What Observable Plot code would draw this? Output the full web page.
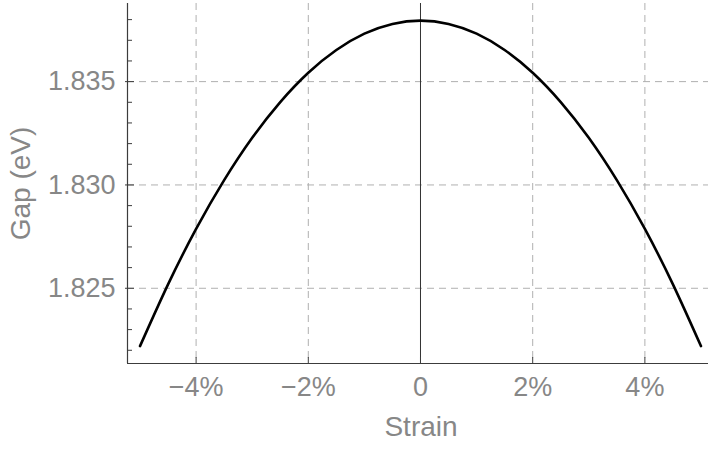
<!DOCTYPE html>
<html>
<head>
<meta charset="utf-8">
<script src="https://cdn.jsdelivr.net/npm/d3@7"></script>
<script src="https://cdn.jsdelivr.net/npm/@observablehq/plot@0.6"></script>
<style>
  html, body { margin: 0; padding: 0; background: #fff; }
  #chart svg { display: block; }
</style>
</head>
<body>
<div id="chart"></div>
<script>
// Band gap versus strain
const strain = [-5, -4.5, -4, -3.5, -3, -2.5, -2, -1.5, -1, -0.5, 0, 0.5, 1, 1.5, 2, 2.5, 3, 3.5, 4, 4.5, 5];
const gap = [1.82220, 1.82519, 1.82787, 1.83023, 1.83228, 1.83401, 1.83543, 1.83653, 1.83732, 1.83779, 1.83795,
             1.83779, 1.83732, 1.83653, 1.83543, 1.83401, 1.83228, 1.83023, 1.82787, 1.82519, 1.82220];

const xTicks = [-4, -2, 0, 2, 4];
const xTickLabels = ["−4%", "−2%", "0", "2%", "4%"];
const xGrid = [-4, -2, 2, 4];
const yTicks = [1.825, 1.830, 1.835];
const yTickLabels = ["1.825", "1.830", "1.835"];
const yMinorTicks = [1.822, 1.823, 1.824, 1.826, 1.827, 1.828, 1.829, 1.831, 1.832, 1.833, 1.834, 1.836, 1.837, 1.838];
const xTitle = "Strain";
const yTitle = "Gap (eV)";

const xDomain = [-5.223, 5.134];
const yDomain = [1.82136, 1.83878];

const data = strain.map((s, i) => ({strain: s, gap: gap[i]}));
const xLabel = new Map(xTicks.map((d, i) => [d, xTickLabels[i]]));
const yLabel = new Map(yTicks.map((d, i) => [d, yTickLabels[i]]));

const W = 708, H = 449;
const mL = 127, mR = 0, mT = 3, mB = 86;
const innerW = W - mL - mR, innerH = H - mT - mB;

const axisColor = "#3c3c3c";
const textColor = "#878787";
const gridColor = "#b0b0b0";

const plot = Plot.plot({
  width: W,
  height: H,
  marginLeft: mL,
  marginRight: mR,
  marginTop: mT,
  marginBottom: mB,
  style: {fontFamily: "'Liberation Sans', Arial, sans-serif", background: "#fff"},
  x: {domain: xDomain, label: null},
  y: {domain: yDomain, label: null},
  marks: [
    Plot.ruleY(yTicks, {stroke: gridColor, strokeWidth: 1, strokeDasharray: "7,5"}),
    Plot.ruleX(xGrid, {stroke: gridColor, strokeWidth: 1, strokeDasharray: "7,5"}),
    Plot.ruleX([0], {stroke: "#333", strokeWidth: 1}),
    Plot.line(data, {x: "strain", y: "gap", curve: "natural", stroke: "#000", strokeWidth: 2.6}),
    // axis lines
    Plot.ruleX([xDomain[0]], {stroke: axisColor, strokeWidth: 1.2}),
    Plot.ruleY([yDomain[0]], {stroke: axisColor, strokeWidth: 1.2}),
    // inward tick marks
    Plot.tickX(xTicks, {stroke: axisColor, strokeWidth: 1, insetTop: innerH - 6}),
    Plot.tickY(yMinorTicks, {stroke: axisColor, strokeWidth: 1, insetRight: innerW - 5}),
    Plot.tickY(yTicks, {stroke: axisColor, strokeWidth: 1, insetRight: innerW - 9, dx: -2}),
    // tick labels
    Plot.axisX(xTicks, {tickSize: 0, tickPadding: 13, tickFormat: d => xLabel.get(d), fontSize: 27, fill: textColor, label: null}),
    Plot.axisY(yTicks, {tickSize: 0, tickPadding: 12, tickFormat: d => yLabel.get(d), fontSize: 27, fill: textColor, label: null}),
    // axis titles
    Plot.text([xTitle], {frameAnchor: "bottom", dy: 64, dx: 3, fontSize: 28, fill: textColor, textAnchor: "middle", lineAnchor: "middle"}),
    Plot.text([yTitle], {frameAnchor: "left", dx: -106, rotate: -90, fontSize: 28, fill: textColor, textAnchor: "middle", lineAnchor: "middle"})
  ]
});

document.getElementById("chart").appendChild(plot);
</script>
</body>
</html>
